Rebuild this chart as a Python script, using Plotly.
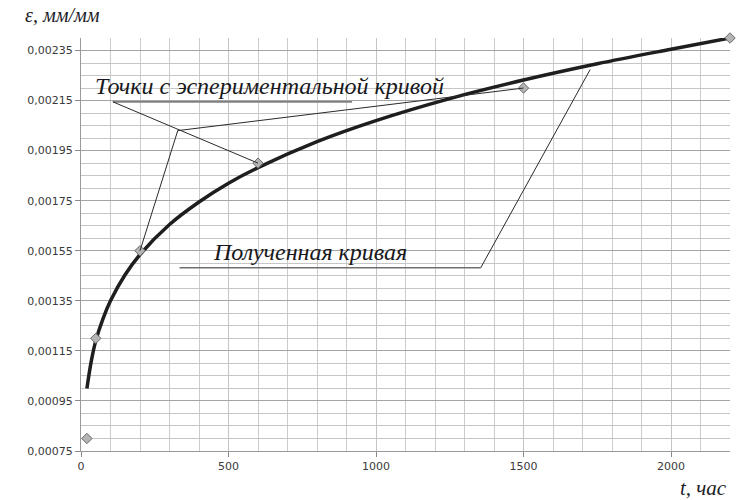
import plotly.graph_objects as go

# Experimental points (time, strain)
exp_t = [20, 50, 200, 600, 1500, 2200]
exp_eps = [0.0008, 0.0012, 0.00155, 0.0019, 0.0022, 0.0024]

# Fitted creep curve, sampled along its length
fit_t = [20, 35, 50, 75, 100, 150, 200, 300, 400, 500, 600, 800, 1000, 1250, 1500, 1750, 2000, 2200]
fit_eps = [0.00100, 0.00111, 0.00119, 0.00128, 0.00135, 0.001455, 0.001535, 0.001655, 0.001745,
           0.00182, 0.001882, 0.001986, 0.00207, 0.002158, 0.002232, 0.002297, 0.002355, 0.00240]

# Axis ticks
y_ticks = [0.00075, 0.00095, 0.00115, 0.00135, 0.00155, 0.00175, 0.00195, 0.00215, 0.00235]
y_tick_text = ["0,00075", "0,00095", "0,00115", "0,00135", "0,00155", "0,00175", "0,00195", "0,00215", "0,00235"]
x_ticks = [0, 500, 1000, 1500, 2000]
x_tick_text = ["0", "500", "1000", "1500", "2000"]

label_points = "Точки с эспериментальной кривой"
label_curve = "Полученная кривая"

fig = go.Figure()

# Leader lines for the experimental-points label
hub = (328, 0.00203)
ul1 = (108, 0.002145, 919)  # underline: x0, y, x1
lead = dict(color="#2a2a2a", width=1)
shapes = [
    dict(type="line", x0=ul1[0], y0=ul1[1], x1=ul1[2], y1=ul1[1], line=dict(color="#808080", width=1.6)),
    dict(type="line", x0=ul1[0], y0=ul1[1], x1=exp_t[3], y1=exp_eps[3], line=lead),
    dict(type="line", x0=hub[0], y0=hub[1], x1=exp_t[2], y1=exp_eps[2], line=lead),
    dict(type="line", x0=hub[0], y0=hub[1], x1=exp_t[4], y1=exp_eps[4], line=lead),
]
# Leader lines for the fitted-curve label
ul2 = (334, 0.001482, 1355)
shapes += [
    dict(type="line", x0=ul2[0], y0=ul2[1], x1=ul2[2], y1=ul2[1], line=dict(color="#707070", width=1.4)),
    dict(type="line", x0=ul2[2], y0=ul2[1], x1=1726, y1=0.002274, line=lead),
]
for s in shapes:
    s.update(xref="x", yref="y", layer="above")

fig.add_trace(go.Scatter(
    x=fit_t, y=fit_eps, mode="lines", line=dict(color="#1e1e1e", width=3.5, shape="spline", smoothing=1.0),
    hoverinfo="skip", showlegend=False))
fig.add_trace(go.Scatter(
    x=exp_t, y=exp_eps, mode="markers",
    marker=dict(symbol="diamond", size=8, color="#b4b4b4", line=dict(color="#6a6a6a", width=1)),
    showlegend=False, cliponaxis=False))

serif_it = "Liberation Serif"
annotations = [
    dict(x=639, y=0.00221, xref="x", yref="y", text=f"<i>{label_points}</i>", showarrow=False,
         font=dict(family=serif_it, size=24, color="#181820")),
    dict(x=777, y=0.001546, xref="x", yref="y", text=f"<i>{label_curve}</i>", showarrow=False,
         font=dict(family=serif_it, size=24, color="#181820")),
    dict(x=23, y=15, xref="paper", yref="paper", text="<i>ε, мм/мм</i>", showarrow=False,
         font=dict(family=serif_it, size=20, color="#1c1c26"), xanchor="left", yanchor="middle"),
    dict(x=729, y=488, xref="paper", yref="paper", text="<i>t, час</i>", showarrow=False,
         font=dict(family=serif_it, size=21, color="#1c1c26"), xanchor="right", yanchor="middle"),
]
# convert pixel positions of the axis titles into paper fractions
L, R, T, B, W, H = 81, 10, 38, 49, 740, 500
pw, ph = W - L - R, H - T - B
for a in annotations[2:]:
    a["x"] = (a["x"] - L) / pw
    a["y"] = (H - B - a["y"]) / ph

fig.update_layout(
    width=W, height=H,
    margin=dict(l=L, r=R, t=T, b=B),
    paper_bgcolor="white", plot_bgcolor="white",
    shapes=shapes, annotations=annotations,
    xaxis=dict(
        range=[0, 2200], tickvals=x_ticks, ticktext=x_tick_text,
        showgrid=True, gridcolor="#c4c4c4", gridwidth=1.3,
        minor=dict(dtick=100, tick0=0, showgrid=True, gridcolor="#cccccc", gridwidth=1.3),
        ticks="outside", ticklen=5, tickcolor="#8a8a8a",
        showline=True, linecolor="#9a9a9a", linewidth=1.3, mirror=False,
        tickfont=dict(family="DejaVu Sans", size=11, color="#3a3a3a"),
        zeroline=False, fixedrange=True,
    ),
    yaxis=dict(
        range=[0.00075, 0.0024], tickvals=y_ticks, ticktext=y_tick_text,
        showgrid=True, gridcolor="#a4a4a4", gridwidth=1.3,
        minor=dict(dtick=0.00005, tick0=0.00075, showgrid=True, gridcolor="#c6c6c6", gridwidth=1.2),
        ticks="outside", ticklen=5, tickcolor="#8a8a8a",
        showline=True, linecolor="#9a9a9a", linewidth=1.3,
        tickfont=dict(family="DejaVu Sans", size=11, color="#3a3a3a"),
        zeroline=False, fixedrange=True,
    ),
)

fig.write_html("out.html")
